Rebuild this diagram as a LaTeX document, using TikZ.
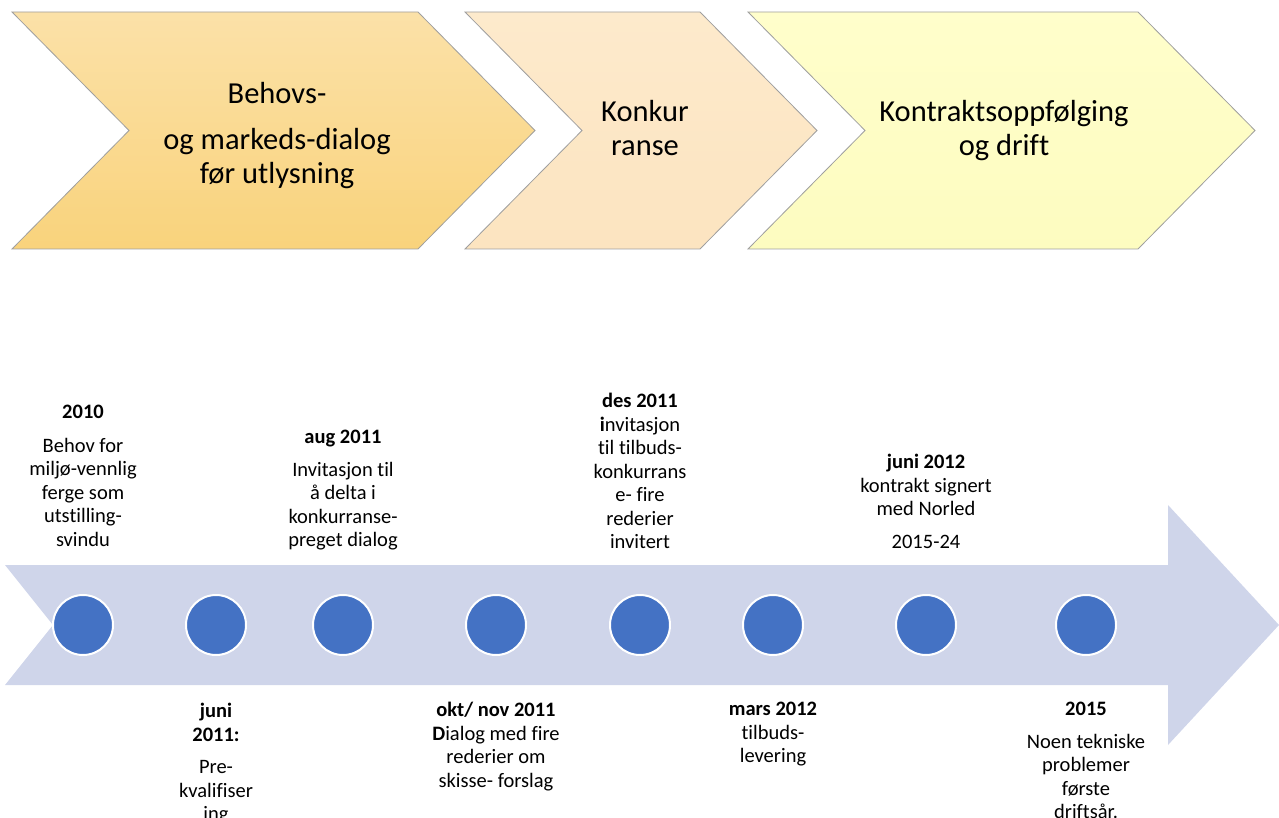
\documentclass[tikz,border=0pt]{standalone}
\usepackage{fontspec}
\setmainfont{Carlito}[Ligatures=NoCommon]
\definecolor{phaseA}{HTML}{FBE1A8}
\definecolor{phaseAb}{HTML}{F9D37C}
\definecolor{phaseB}{HTML}{FDEACC}
\definecolor{phaseBb}{HTML}{FCE4C0}
\definecolor{phaseC}{HTML}{FFFECB}
\definecolor{phaseCb}{HTML}{FDFCC0}
\definecolor{band}{HTML}{CFD5EA}
\definecolor{dotblue}{HTML}{4472C4}
\tikzset{
  phase/.style={draw=gray!75, line width=0.8pt},
  phasetext/.style={align=center, inner sep=0pt, font=\fontsize{30.5}{34}\selectfont},
  evt/.style={align=center, inner sep=0pt, anchor=north, font=\fontsize{20.5}{23.5}\selectfont},
  dot/.style={circle, fill=dotblue, draw=white, line width=2pt, minimum size=60pt, inner sep=0pt}
}
\begin{document}
\begin{tikzpicture}[x=1pt,y=-1pt]
    \useasboundingbox (0,0) rectangle (1279,818);
    \begin{scope}[]
    % Phase chevrons
    \path[phase, top color=phaseA, bottom color=phaseAb]
        (12,12) -- (418,12) -- (535,130.5) -- (418,249) -- (12,249) -- (129,130.5) -- cycle;
    \path[phase, top color=phaseB, bottom color=phaseBb]
        (465,12) -- (700,12) -- (817,130.5) -- (700,249) -- (465,249) -- (582,130.5) -- cycle;
    \path[phase, top color=phaseC, bottom color=phaseCb]
        (748,12) -- (1138,12) -- (1255,130.5) -- (1138,249) -- (748,249) -- (865,130.5) -- cycle;
    \node[phasetext, anchor=north] (ph1) at (277,82) {Behovs-\\[12pt] og markeds-dialog\\ før utlysning};
    \node[phasetext, anchor=north] (ph2) at (645,100) {Konkur\\ ranse};
    \node[phasetext, anchor=north] (ph3) at (1004,100) {Kontraktsoppfølging\\ og drift};

    % Timeline arrow
    \fill[band] (5,565) -- (1168,565) -- (1168,505) -- (1279,625) -- (1168,745)
        -- (1168,685) -- (5,685) -- (53,625) -- cycle;

    % Milestones on the arrow
    \foreach \i/\x in {1/83, 2/216, 3/343, 4/496, 5/640, 6/773, 7/926, 8/1086}
    {
        \node[dot] (c\i) at (\x,625) {};
    }

    % Texts above the arrow
    \node[evt] (e1) at (83,405) {\textbf{2010}\\[10pt] Behov for\\ miljø-vennlig\\ ferge som\\ utstilling-\\ svindu};
    \node[evt] (e3) at (343,430) {\textbf{aug 2011}\\[9pt] Invitasjon til\\ å delta i\\ konkurranse-\\ preget dialog};
    \node[evt] (e5) at (640,393) {\textbf{des 2011}\\ \textbf{i}nvitasjon\\ til tilbuds-\\ konkurrans\\ e- fire\\ rederier\\ invitert};
    \node[evt] (e7) at (926,454) {\textbf{juni 2012}\\ kontrakt signert\\ med Norled\\[9pt] 2015-24};

    % Texts below the arrow
    \node[evt] (e2) at (216,703) {\textbf{juni}\\ \textbf{2011:}\\[9pt] Pre-\\ kvalifiser\\ ing};
    \node[evt] (e4) at (496,702) {\textbf{okt/ nov 2011}\\ \textbf{D}ialog med fire\\ rederier om\\ skisse- forslag};
    \node[evt] (e6) at (773,702) {\textbf{mars 2012}\\ tilbuds-\\ levering};
    \node[evt] (e8) at (1086,702) {\textbf{2015}\\[9pt] Noen tekniske\\ problemer\\ første\\ driftsår.};
    \end{scope}
\end{tikzpicture}
\end{document}
